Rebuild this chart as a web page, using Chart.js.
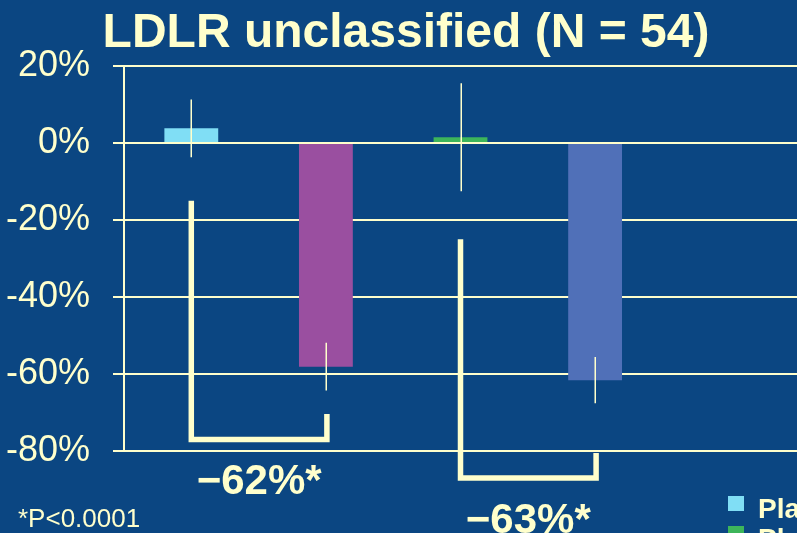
<!DOCTYPE html>
<html>
<head>
<meta charset="utf-8">
<script src="https://cdn.jsdelivr.net/npm/chart.js@4.4.1/dist/chart.umd.min.js"></script>
<style>
  html, body { margin: 0; padding: 0; background: #0B4682; }
  #wrap { width: 797px; height: 533px; position: relative; }
</style>
</head>
<body>
<div id="wrap"><canvas id="c" width="797" height="533"></canvas></div>
<script>
// Mean percent change from baseline, one bar per group
const categories = ['Placebo A', 'Treatment A', 'Placebo B', 'Treatment B', ''];
const values = [3.8, -58.1, 1.5, -61.6, null];
const errors = [7.5, 6.2, 14, 6, null];
const barColors = ['#80DEF5', '#9A4FA0', '#3DB55A', '#5070B8', '#000000'];

// Axis ticks
const yTicks = [20, 0, -20, -40, -60, -80];

// Comparison brackets: [left category, right category, left top, bottom, right top]
const brackets = [
  { from: 0, to: 1, leftTop: -15, bottom: -77, rightTop: -70.4, label: '\u221262%*' },
  { from: 2, to: 3, leftTop: -25, bottom: -87, rightTop: -80.5, label: '\u221263%*' }
];

const legendItems = [
  { text: 'Placebo', color: '#80DEF5' },
  { text: 'Placebo', color: '#3DB55A' }
];

const titleText = 'LDLR unclassified (N = 54)';
const footnote = '*P<0.0001';

const cream = '#FFFFCC';
const bg = '#0B4682';

const decor = {
  id: 'decor',
  beforeDraw(chart) {
    const ctx = chart.ctx;
    ctx.save();
    ctx.fillStyle = bg;
    ctx.fillRect(0, 0, chart.width, chart.height);
    ctx.restore();
  },
  afterDatasetsDraw(chart) {
    const ctx = chart.ctx;
    const xs = chart.scales.x, ys = chart.scales.y;
    ctx.save();
    // error bars
    ctx.strokeStyle = cream;
    ctx.lineWidth = 1.5;
    values.forEach((v, i) => {
      if (v === null) return;
      const x = Math.round(xs.getPixelForValue(i)) + 0.25;
      ctx.beginPath();
      ctx.moveTo(x, ys.getPixelForValue(v + errors[i]));
      ctx.lineTo(x, ys.getPixelForValue(v - errors[i]));
      ctx.stroke();
    });
    // brackets and their labels
    ctx.lineWidth = 5.5;
    ctx.lineJoin = 'miter';
    ctx.lineCap = 'butt';
    brackets.forEach(b => {
      const x1 = xs.getPixelForValue(b.from);
      const x2 = xs.getPixelForValue(b.to) + 1;
      const yb = ys.getPixelForValue(b.bottom);
      ctx.beginPath();
      ctx.moveTo(x1, ys.getPixelForValue(b.leftTop));
      ctx.lineTo(x1, yb);
      ctx.lineTo(x2, yb);
      ctx.lineTo(x2, ys.getPixelForValue(b.rightTop));
      ctx.stroke();
      ctx.fillStyle = cream;
      ctx.font = 'bold 42px "Liberation Sans", Arial, sans-serif';
      ctx.textAlign = 'center';
      ctx.textBaseline = 'alphabetic';
      ctx.fillText(b.label, (x1 + x2) / 2, yb + 55);
    });
    ctx.restore();
  },
  afterDraw(chart) {
    const ctx = chart.ctx;
    ctx.save();
    ctx.fillStyle = cream;
    ctx.textBaseline = 'alphabetic';
    // title
    ctx.font = 'bold 48px "Liberation Sans", Arial, sans-serif';
    ctx.textAlign = 'center';
    ctx.fillText(titleText, 406, 47);
    // footnote
    ctx.font = '26px "Liberation Sans", Arial, sans-serif';
    ctx.textAlign = 'left';
    ctx.fillText(footnote, 18, 527);
    // legend
    ctx.font = 'bold 28px "Liberation Sans", Arial, sans-serif';
    legendItems.forEach((it, i) => {
      const y = 496 + i * 30;
      ctx.fillStyle = it.color;
      ctx.fillRect(728, y, 16, 15);
      ctx.fillStyle = cream;
      ctx.fillText(it.text, 758, y + 22);
    });
    ctx.restore();
  }
};

new Chart(document.getElementById('c'), {
  type: 'bar',
  data: {
    labels: categories,
    datasets: [{
      data: values,
      backgroundColor: barColors,
      borderWidth: 0,
      barPercentage: 0.4,
      categoryPercentage: 1
    }]
  },
  options: {
    responsive: false,
    animation: false,
    devicePixelRatio: 1,
    layout: { padding: { top: 66, left: 0, right: 0, bottom: 82 } },
    plugins: {
      legend: { display: false },
      title: { display: false },
      tooltip: { enabled: false }
    },
    scales: {
      x: {
        display: false
      },
      y: {
        min: -80,
        max: 20,
        afterFit(scale) { scale.width = 124; },
        afterBuildTicks(scale) { scale.ticks = yTicks.map(v => ({ value: v })); },
        grid: {
          color: cream,
          lineWidth: 2,
          tickLength: 11,
          drawTicks: true
        },
        border: { display: true, color: cream, width: 2 },
        ticks: {
          color: cream,
          padding: 23,
          font: { family: '"Liberation Sans", Arial, sans-serif', size: 36 },
          callback: v => v + '%'
        }
      }
    }
  },
  plugins: [decor]
});
</script>
</body>
</html>
